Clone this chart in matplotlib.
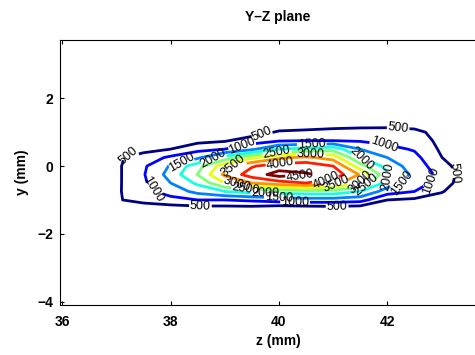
import numpy as np
import matplotlib
matplotlib.use("Agg")
import matplotlib.pyplot as plt

z_mm = [36.0, 36.5, 37.0, 37.5, 38.0, 38.5, 39.0, 39.5, 40.0, 40.5, 41.0, 41.5, 42.0, 42.5, 43.0, 43.5, 44.0]
y_mm = [-1.75, -1.5, -1.25, -1.0, -0.75, -0.5, -0.25, 0.0, 0.25, 0.5, 0.75, 1.0, 1.25, 1.5, 1.75]

# one list per z column, ordered by y_mm
col_360 = [0, 0, 0, 0, 0, 0, 0, 0, 0, 0, 0, 0, 0, 0, 0]
col_365 = [0, 0, 0, 20, 40, 50, 50, 50, 40, 20, 0, 0, 0, 0, 0]
col_370 = [0, 0, 50, 440, 420, 400, 390, 400, 420, 150, 40, 0, 0, 0, 0]
col_375 = [0, 0, 150, 700, 850, 920, 960, 920, 700, 350, 120, 30, 0, 0, 0]
col_380 = [0, 0, 250, 850, 1200, 1500, 1700, 1550, 1100, 500, 200, 50, 0, 0, 0]
col_385 = [0, 0, 300, 1000, 1650, 2100, 2520, 2300, 1400, 850, 350, 80, 0, 0, 0]
col_390 = [0, 0, 300, 1000, 2000, 3000, 3600, 3300, 2200, 1000, 450, 120, 0, 0, 0]
col_395 = [0, 0, 300, 1100, 2200, 3500, 4250, 3950, 2900, 1400, 750, 250, 50, 0, 0]
col_400 = [0, 0, 150, 1250, 2200, 3800, 4700, 4250, 3400, 2000, 950, 560, 150, 0, 0]
col_405 = [0, 0, 200, 1300, 2300, 4000, 4550, 4300, 3600, 2150, 1000, 620, 180, 0, 0]
col_410 = [0, 0, 250, 1300, 2300, 3700, 4350, 4000, 3300, 2300, 1000, 700, 220, 0, 0]
col_415 = [0, 0, 200, 1200, 2000, 3000, 3450, 2700, 2000, 1500, 950, 750, 250, 0, 0]
col_420 = [0, 0, 50, 500, 1250, 1800, 2100, 1800, 1500, 1150, 850, 720, 300, 0, 0]
col_425 = [0, 0, 0, 400, 1000, 1250, 1350, 1250, 1150, 950, 800, 650, 250, 0, 0]
col_430 = [0, 0, 0, 200, 550, 800, 850, 720, 510, 420, 350, 280, 100, 0, 0]
col_435 = [0, 0, 0, 0, 30, 100, 150, 120, 80, 50, 20, 0, 0, 0, 0]
col_440 = [0, 0, 0, 0, 0, 0, 0, 0, 0, 0, 0, 0, 0, 0, 0]

levels = [500, 1000, 1500, 2000, 2500, 3000, 3500, 4000, 4500]

# where the reference puts its inline labels (z, y), per level
label_spots = {
    500: [(37.29, 0.21), (39.75, 0.83), (42.2, 1.12), (43.21, -0.21), (41.07, -1.15), (38.55, -1.18)],
    1000: [(37.77, -0.65), (39.34, 0.56), (41.92, 0.6), (42.66, -0.41), (40.3, -1.0)],
    1500: [(38.14, 0.18), (40.61, 0.53), (42.3, -0.5), (40.0, -0.91)],
    2000: [(38.82, 0.18), (41.35, 0.09), (42.0, -0.32), (39.75, -0.8)],
    2500: [(39.97, 0.38), (41.7, -0.65), (39.38, -0.7)],
    3000: [(40.58, 0.3), (41.55, -0.5), (39.2, -0.6)],
    3500: [(39.0, 0.1), (41.09, -0.6)],
    4000: [(40.02, 0.09), (40.89, -0.45)],
    4500: [(40.39, -0.29)],
}

columns = [col_360, col_365, col_370, col_375, col_380, col_385, col_390, col_395,
           col_400, col_405, col_410, col_415, col_420, col_425, col_430, col_435, col_440]
field = np.array(columns, dtype=float).T

plt.rcParams['font.family'] = ['Liberation Sans', 'DejaVu Sans']

fig = plt.figure(figsize=(4.75, 3.55), dpi=100)
ax = fig.add_axes([60 / 475, 1 - 305 / 355, (44.0 - 35.96) * 54.2 / 475, 265 / 355])

colors = plt.cm.jet(np.linspace(0, 1, len(levels)))
# one contour set per level, so each one can get its own label spots
for lev, col in zip(levels, colors):
    cs = ax.contour(z_mm, y_mm, field, levels=[lev], colors=[col], linewidths=2.0)
    ax.clabel(cs, fmt='%d', fontsize=9, colors='black', inline=True,
              inline_spacing=1, manual=label_spots[lev])

ax.set_xlim(35.96, 44.0)
ax.set_ylim(-4.1, 3.72)
ax.set_xticks([36, 38, 40, 42])
ax.set_yticks([-4, -2, 0, 2])
ax.tick_params(direction='in', length=3, top=True, right=True, labelsize=10, width=0.8, pad=5)
ax.tick_params(axis='x', pad=7)
for lab in ax.get_xticklabels() + ax.get_yticklabels():
    lab.set_fontweight('bold')
ax.set_xlabel('z (mm)', fontsize=10, fontweight='bold', labelpad=4)
ax.set_ylabel('y (mm)', fontsize=10, fontweight='bold', labelpad=6)
ax.set_title('Y\u2013Z plane', fontsize=10, fontweight='bold', pad=14)

fig.savefig('out.png', dpi=100)
